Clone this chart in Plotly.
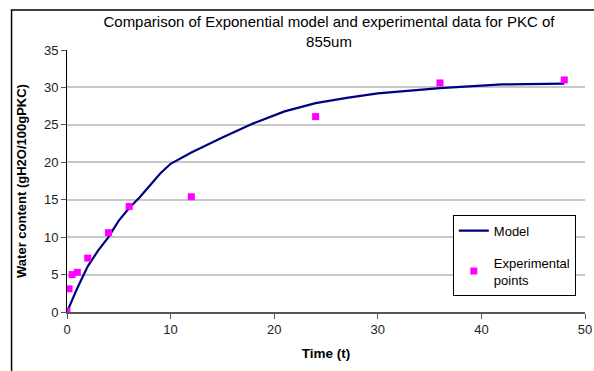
import plotly.graph_objects as go

model_t = [0, 1, 2, 3, 4, 5, 6, 7, 8, 9, 10, 12, 15, 18, 21, 24, 27, 30, 36, 42, 48]
model_w = [0, 3.2, 6.1, 8.2, 10.0, 12.2, 13.9, 15.3, 16.9, 18.5, 19.8, 21.3, 23.3, 25.2, 26.8, 27.9, 28.6, 29.2, 29.9, 30.4, 30.5]

exp_t = [0, 0.2, 0.5, 1, 2, 4, 6, 12, 24, 36, 48]
exp_w = [0.1, 3.1, 5.0, 5.3, 7.2, 10.6, 14.1, 15.4, 26.1, 30.6, 31.0]

x_ticks = [0, 10, 20, 30, 40, 50]
y_ticks = [0, 5, 10, 15, 20, 25, 30, 35]

FONT = "Liberation Sans, Arial, sans-serif"

W, H = 594, 371

fig = go.Figure()
fig.add_trace(go.Scatter(x=model_t, y=model_w, mode="lines", name="Model",
                         line=dict(color="#000080", width=2.2), legendgroup="a"))
fig.add_trace(go.Scatter(x=exp_t, y=exp_w, mode="markers", name="Experimental<br>points",
                         marker=dict(color="#FF00FF", symbol="square", size=7), legendgroup="b"))

fig.update_layout(
    width=W, height=H,
    margin=dict(l=66.5, r=W - 585, t=50, b=H - 312, autoexpand=False),
    paper_bgcolor="white", plot_bgcolor="white",
    font=dict(family=FONT, color="#000000", size=13),
    title=dict(text="Comparison of Exponential model and experimental data for PKC of<br>855um",
               x=329 / W, xanchor="center", y=1 - 27 / H, yanchor="middle",
               automargin=False,
               font=dict(family=FONT, size=15, color="#000000")),
    showlegend=True,
    legend=dict(x=(452.7 - 66.5) / 518.5, y=(312 - 214.7) / 262, xanchor="left", yanchor="top",
                bordercolor="#000000", borderwidth=1, bgcolor="white",
                font=dict(family=FONT, size=13), tracegroupgap=12, traceorder="grouped"),
    xaxis=dict(range=[0, 50], tickvals=x_ticks, showgrid=False, zeroline=False, automargin=False,
               showline=True, linecolor="#555555", linewidth=1.5,
               ticks="outside", ticklen=5, tickcolor="#555555", ticklabeloverflow="allow",
               tickfont=dict(size=13, color="#222222"),
               title=dict(text="<b>Time (t)</b>", font=dict(size=13.5), standoff=12)),
    yaxis=dict(range=[0, 35], tickvals=y_ticks, showgrid=True, gridcolor="#C8C8C8", gridwidth=1.5,
               zeroline=False, showline=True, linecolor="#000000", linewidth=1, automargin=False,
               ticks="outside", ticklen=5, tickcolor="#555555",
               tickfont=dict(size=13, color="#222222"),
               title=dict(text="<b>Water content (gH2O/100gPKC)</b>", font=dict(size=13), standoff=14)),
    shapes=[dict(type="rect", xref="paper", yref="paper",
                 x0=(11 - 66.5) / 518.5, x1=1.2, y0=-0.5, y1=(312 - 10) / 262,
                 line=dict(color="#000000", width=1.5), fillcolor="rgba(0,0,0,0)", layer="below")],
)

fig.write_html("out.html", config={"displayModeBar": False},
               post_script="document.body.style.margin='0';document.body.style.overflow='hidden';")
